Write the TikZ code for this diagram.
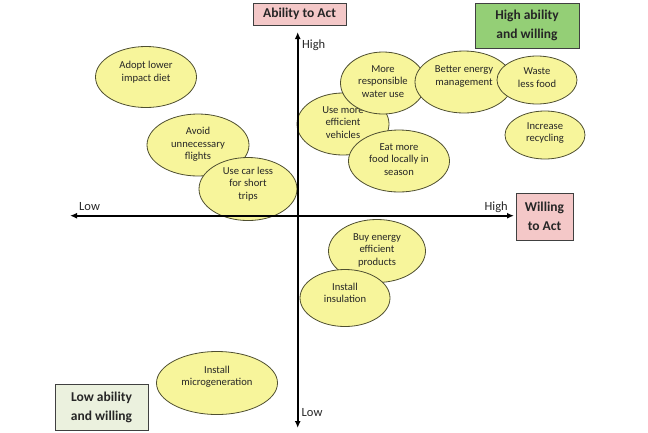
\documentclass[tikz,border=0pt]{standalone}
\usepackage{fontspec}
\setmainfont{Carlito}
\usetikzlibrary{shapes.geometric,arrows.meta}
\definecolor{blobfill}{HTML}{F7F59B}
\definecolor{blobline}{HTML}{4F4F30}
\definecolor{actpink}{HTML}{F4C8C8}
\definecolor{highgreen}{HTML}{94CF76}
\definecolor{lowgreen}{HTML}{EBF1DE}
\tikzset{
	blob/.style={ellipse, draw=blobline, line width=0.8pt, fill=blobfill, inner sep=0pt, align=center, text=black!85, font=\fontsize{10.6}{12.6}\selectfont},
	tag/.style={draw=black!75, line width=0.9pt, align=center, inner sep=0pt, text=black!85, font=\fontsize{13.5}{19}\selectfont\bfseries},
	axis/.style={line width=1.8pt, {Latex[length=7pt,width=6pt]}-{Latex[length=7pt,width=6pt]}},
	level/.style={inner sep=0pt, text=black!85, font=\fontsize{12.5}{14}\selectfont}
}
\begin{document}
\begin{tikzpicture}[x=1pt,y=-1pt]
	\useasboundingbox (0,0) rectangle (648,432);
	
	% corner and axis titles
	\node[tag, fill=actpink, minimum width=93, minimum height=22] (ability) at (299.5,14) {Ability to Act};
	\node[tag, fill=highgreen, minimum width=104, minimum height=45] (highbox) at (527,25.5) {High ability\\and willing};
	\node[tag, fill=actpink, minimum width=57, minimum height=47] (willing) at (544.5,216.5) {Willing\\to Act};
	\node[tag, fill=lowgreen, minimum width=93, minimum height=46] (lowbox) at (101.5,407) {Low ability\\and willing};
	
	% actions (last column: text depth, lifts the text a little)
	\foreach \n/\x/\y/\w/\h/\d/\t in {
		diet/146/77/101/61/11/{Adopt lower\\impact diet},
		flights/198/145/102/62/3/{Avoid\\unnecessary\\flights},
		carless/248/189/98/50/12/{Use car less\\for short\\trips},
		vehicles/343/124/92/62/3/{Use more\\efficient\\vehicles},
		water/383/83/85/62/3/{More\\responsible\\water use},
		energy/464/82/98/62/13/{Better energy\\management},
		waste/537/80/80/48/5/{Waste\\less food},
		recycling/545/135/80/48/6/{Increase\\recycling},
		local/399/161/101/62/3/{Eat more\\food locally in\\season},
		products/377/251/97/63/3/{Buy energy\\efficient\\products},
		insulation/345/298/90/57/10/{Install\\insulation},
		microgen/217/383/121/63/14/{Install\\microgeneration}}
		\node[blob, minimum width=\w, minimum height=\h, text depth=\d] (\n) at (\x,\y) {\t};
	
	% axes
	\coordinate (top) at (297.7,32);
	\coordinate (bottom) at (297.7,428);
	\coordinate (left) at (70,215.7);
	\coordinate (right) at (514,215.7);
	\draw[axis] (bottom) -- (top);
	\draw[axis] (left) -- (right);
	\node[level, anchor=west] (hightop) at (302,45) {High};
	\node[level, anchor=west] (lowbottom) at (301.5,413) {Low};
	\node[level, anchor=west] (lowleft) at (79,207) {Low};
	\node[level, anchor=east] (highright) at (508,207) {High};
	
\end{tikzpicture}
\end{document}
